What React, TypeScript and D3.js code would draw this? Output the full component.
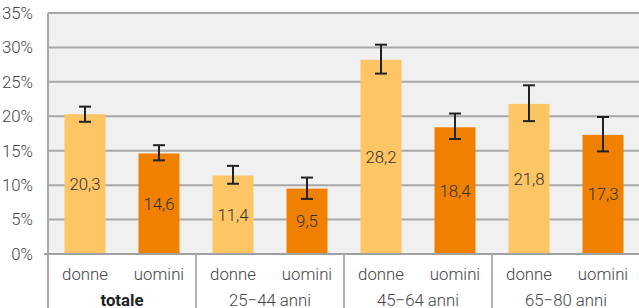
import React, { useRef, useEffect } from 'react';
import * as d3 from 'd3';

const groups = ['totale', '25\u221244 anni', '45\u221264 anni', '65\u221280 anni'];
const sexes = ['donne', 'uomini'];
const values = [20.3, 14.6, 11.4, 9.5, 28.2, 18.4, 21.8, 17.3];
const errLow = [19.2, 13.6, 10.2, 8.0, 26.2, 16.7, 19.3, 14.9];
const errHigh = [21.4, 15.8, 12.8, 11.1, 30.4, 20.4, 24.5, 19.9];
const yTicks = [0, 5, 10, 15, 20, 25, 30, 35];

const App = () => {
  const svgRef = useRef<SVGSVGElement>(null);

  useEffect(() => {
    const w = 639;
    const h = 308;
    const m = { left: 48, right: 0, top: 13, bottom: 54 };
    const svg = d3.select(svgRef.current).attr('width', w).attr('height', h);
    svg.selectAll('*').remove();

    const font = 'Roboto, sans-serif';
    const fs = 16.8;
    const keys = values.map((v, i) => i);
    const x = d3
      .scaleBand<number>()
      .domain(keys)
      .range([m.left, w + 1])
      .paddingInner(0.446)
      .paddingOuter(0.223);
    const gx = d3.scaleBand<number>().domain(groups.map((g, i) => i)).range([m.left, w + 1]);
    const y = d3.scaleLinear().domain([0, 35]).range([h - m.bottom, m.top]);

    // plot background
    svg
      .append('rect')
      .attr('x', m.left)
      .attr('y', m.top)
      .attr('width', w - m.left)
      .attr('height', y(0) - m.top)
      .attr('fill', '#f0f0f0');

    // grid + y labels
    svg
      .selectAll('.grid')
      .data(yTicks)
      .join('line')
      .attr('x1', m.left)
      .attr('x2', w)
      .attr('y1', (d) => y(d))
      .attr('y2', (d) => y(d))
      .attr('stroke', '#a8a8a8')
      .attr('stroke-width', 2);

    svg
      .selectAll('.ylab')
      .data(yTicks)
      .join('text')
      .attr('x', 33)
      .attr('y', (d) => y(d))
      .attr('dy', '0.35em')
      .attr('text-anchor', 'end')
      .attr('font-family', font)
      .attr('font-weight', 300)
      .attr('font-size', fs)
      .attr('fill', '#444')
      .text((d) => `${d}%`);

    // bars
    svg
      .selectAll('.bar')
      .data(values)
      .join('rect')
      .attr('x', (d, i) => x(i)!)
      .attr('y', (d) => y(d))
      .attr('width', x.bandwidth())
      .attr('height', (d) => y(0) - y(d))
      .attr('fill', (d, i) => (i % 2 === 0 ? '#fdc564' : '#f08000'));

    // value labels
    svg
      .selectAll('.val')
      .data(values)
      .join('text')
      .attr('x', (d, i) => x(i)! + x.bandwidth() / 2)
      .attr('y', (d) => (y(d) + y(0)) / 2)
      .attr('dy', '0.35em')
      .attr('text-anchor', 'middle')
      .attr('font-family', font)
      .attr('font-weight', 300)
      .attr('font-size', fs)
      .attr('fill', '#333')
      .text((d) => d.toFixed(1).replace('.', ','));

    // error bars
    const eb = svg.append('g').attr('stroke', '#222').attr('stroke-width', 2);
    keys.forEach((i) => {
      const cx = x(i)! + x.bandwidth() / 2;
      eb.append('line').attr('x1', cx).attr('x2', cx).attr('y1', y(errLow[i])).attr('y2', y(errHigh[i]));
      [errLow[i], errHigh[i]].forEach((v) => {
        eb.append('line').attr('x1', cx - 6).attr('x2', cx + 6).attr('y1', y(v)).attr('y2', y(v));
      });
    });

    // axes lines
    svg
      .append('line')
      .attr('x1', m.left)
      .attr('x2', m.left)
      .attr('y1', m.top)
      .attr('y2', h)
      .attr('stroke', '#a8a8a8')
      .attr('stroke-width', 2);
    svg
      .append('line')
      .attr('x1', 44)
      .attr('x2', w)
      .attr('y1', y(0))
      .attr('y2', y(0))
      .attr('stroke', '#a0a0a0')
      .attr('stroke-width', 2);
    svg
      .selectAll('.div')
      .data(groups.slice(1))
      .join('line')
      .attr('x1', (d, i) => gx(i + 1)!)
      .attr('x2', (d, i) => gx(i + 1)!)
      .attr('y1', y(0))
      .attr('y2', h)
      .attr('stroke', '#b0b0b0')
      .attr('stroke-width', 2);

    // category labels
    svg
      .selectAll('.cat')
      .data(keys)
      .join('text')
      .attr('x', (i) => x(i)! + x.bandwidth() / 2)
      .attr('y', 280)
      .attr('text-anchor', 'middle')
      .attr('font-family', font)
      .attr('font-weight', 300)
      .attr('font-size', fs)
      .attr('fill', '#444')
      .text((i) => sexes[i % 2]);

    svg
      .selectAll('.grp')
      .data(groups)
      .join('text')
      .attr('x', (d, i) => gx(i)! + gx.bandwidth() / 2)
      .attr('y', 306)
      .attr('text-anchor', 'middle')
      .attr('font-family', font)
      .attr('font-weight', (d, i) => (i === 0 ? 700 : 300))
      .attr('font-size', fs)
      .attr('fill', (d, i) => (i === 0 ? '#222' : '#444'))
      .text((d) => d);
  }, []);

  return (
    <div style={{ position: 'absolute', left: 0, top: 0 }}>
      <svg ref={svgRef} style={{ display: 'block' }}></svg>
    </div>
  );
};

export default App;
